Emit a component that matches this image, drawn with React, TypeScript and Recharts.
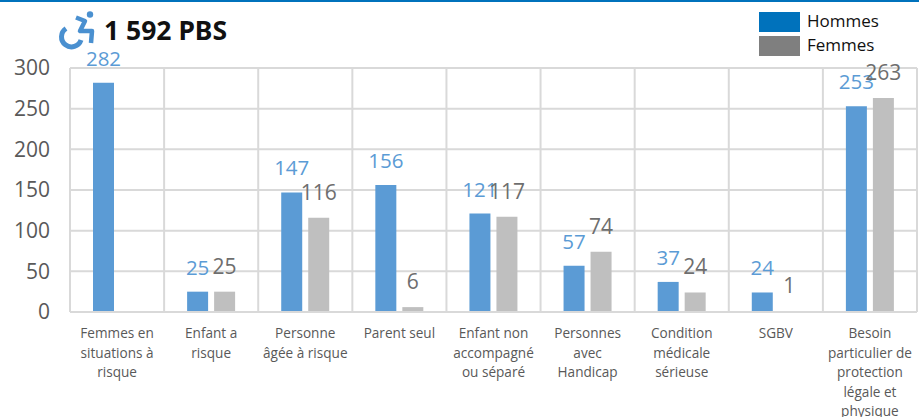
import React from "react";
import { BarChart, Bar, XAxis, YAxis, CartesianGrid, LabelList } from "recharts";

const categories = [
  "Femmes en\nsituations à\nrisque",
  "Enfant a\nrisque",
  "Personne\nâgée à risque",
  "Parent seul",
  "Enfant non\naccompagné\nou séparé",
  "Personnes\navec\nHandicap",
  "Condition\nmédicale\nsérieuse",
  "SGBV",
  "Besoin\nparticulier de\nprotection\nlégale et\nphysique",
];
const hommes = [282, 25, 147, 156, 121, 57, 37, 24, 253];
const femmes = [null, 25, 116, 6, 117, 74, 24, 1, 263];
const yTicks = [0, 50, 100, 150, 200, 250, 300];
const titleText = "1 592 PBS";
const seriesNames = ["Hommes", "Femmes"];
const legendColors = ["#0072BC", "#7F7F7F"];

const rows = categories.map((category, i) => ({ category, hommes: hommes[i], femmes: femmes[i] }));
const FONT = "'Open Sans', sans-serif";

function CategoryTick({ x, y, payload }: any) {
  const lines = String(payload.value).split("\n");
  return (
    <text x={x} y={y} textAnchor="middle" fontFamily={FONT} fontSize={13.6} fill="#595959">
      {lines.map((l, i) => (
        <tspan key={i} x={x} dy={i === 0 ? 0 : 19.5}>{l}</tspan>
      ))}
    </text>
  );
}

export default function App() {
  return (
    <div style={{ position: "absolute", left: 0, top: 0, width: 919, height: 417, overflow: "hidden", background: "#fff" }}>
      <div style={{ position: "absolute", left: 0, top: 0, width: 919, height: 2, background: "#0072BC" }} />
      <svg width={60} height={50} style={{ position: "absolute", left: 55, top: 8 }} fill="none">
        <circle cx={35} cy={6.5} r={3.2} fill="#4A90D0" />
        <path d="M11 20.5 A10 10 0 1 0 26 32" stroke="#4A90D0" strokeWidth={5} />
        <path d="M21 9.5 L30 13 L25 23 L37 23 L36 35" stroke="#4A90D0" strokeWidth={4.5} strokeLinejoin="round" />
      </svg>
      <div style={{ position: "absolute", left: 104, top: 12, fontFamily: "'Noto Sans', sans-serif", fontWeight: 700, fontSize: 26.5, lineHeight: "36px", color: "#111" }}>
        {titleText}
      </div>
      <div style={{ position: "absolute", left: 759, top: 12, width: 130 }}>
        {seriesNames.map((n, i) => (
          <div key={n} style={{ display: "flex", alignItems: "center", height: 20, marginBottom: 4 }}>
            <div style={{ width: 41, height: 20, background: legendColors[i], marginRight: 7 }} />
            <span style={{ fontFamily: FONT, fontSize: 17, color: "#111", lineHeight: "20px", marginTop: -2 }}>{n}</span>
          </div>
        ))}
      </div>
      <BarChart
        width={919}
        height={417}
        data={rows}
        margin={{ top: 68, right: 2, bottom: 0, left: 0 }}
        barSize={21}
        barGap={6}
        style={{ position: "absolute", left: 0, top: 0 }}
      >
        <CartesianGrid
          stroke="#D9D9D9"
          strokeWidth={2}
          verticalCoordinatesGenerator={({ offset }: any) =>
            categories.map((_, i) => offset.left + (offset.width * i) / categories.length).concat(offset.left + offset.width)
          }
        />
        <XAxis
          dataKey="category"
          axisLine={{ stroke: "#D9D9D9", strokeWidth: 2 }}
          tickLine={false}
          tick={<CategoryTick />}
          tickMargin={20}
          interval={0}
          height={105}
        />
        <YAxis
          domain={[0, 300]}
          ticks={yTicks}
          width={70}
          axisLine={false}
          tickLine={false}
          tickMargin={14}
          tick={{ fontFamily: FONT, fontSize: 21, fill: "#595959" }}
        />
        <Bar dataKey="hommes" name="Hommes" fill="#5B9BD5" isAnimationActive={false}>
          <LabelList dataKey="hommes" position="top" offset={17} style={{ fontFamily: FONT, fontSize: 20.5, fill: "#5B9BD5" }} />
        </Bar>
        <Bar dataKey="femmes" name="Femmes" fill="#BFBFBF" isAnimationActive={false}>
          <LabelList dataKey="femmes" position="top" offset={18} style={{ fontFamily: FONT, fontSize: 21, fill: "#6E6E6E" }} />
        </Bar>
      </BarChart>
    </div>
  );
}
